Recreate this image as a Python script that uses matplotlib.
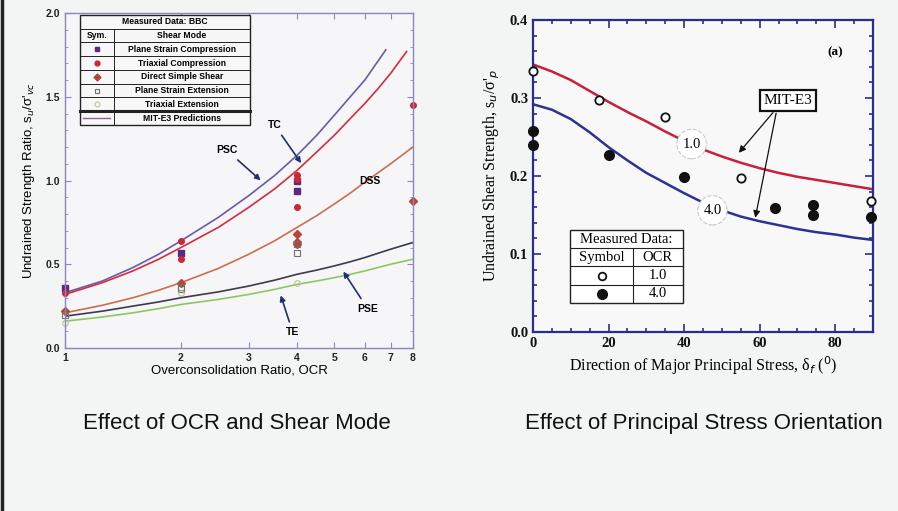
import numpy as np
import matplotlib
matplotlib.use("Agg")
import matplotlib.pyplot as plt
from matplotlib.ticker import FixedLocator, MultipleLocator, FormatStrFormatter
from matplotlib.lines import Line2D
from matplotlib.patches import Rectangle

# ---------------- data: left panel (OCR and shear mode) ----------------
ocr_line = [1, 1.25, 1.5, 1.75, 2, 2.5, 3, 3.5, 4, 4.5, 5, 5.5, 6, 7, 8]
psc_ocr = [1, 1.25, 1.5, 1.75, 2, 2.5, 3, 3.5, 4, 4.5, 5, 5.5, 6, 6.8]
psc_line = [0.33, 0.40, 0.48, 0.56, 0.64, 0.78, 0.91, 1.03, 1.15, 1.27, 1.39, 1.50, 1.60, 1.78]
tc_ocr = [1, 1.25, 1.5, 1.75, 2, 2.5, 3, 3.5, 4, 4.5, 5, 5.5, 6, 6.5, 7, 7.7]
tc_line = [0.32, 0.39, 0.46, 0.53, 0.60, 0.72, 0.84, 0.95, 1.06, 1.17, 1.27, 1.37, 1.46, 1.55, 1.64, 1.77]
dss_line = [0.21, 0.255, 0.30, 0.345, 0.39, 0.475, 0.56, 0.64, 0.72, 0.79, 0.86, 0.925, 0.99, 1.10, 1.20]
pse_line = [0.19, 0.22, 0.25, 0.275, 0.30, 0.335, 0.37, 0.405, 0.44, 0.465, 0.49, 0.515, 0.54, 0.59, 0.63]
te_line = [0.16, 0.185, 0.21, 0.235, 0.26, 0.29, 0.32, 0.35, 0.38, 0.40, 0.42, 0.44, 0.46, 0.50, 0.53]

psc_pts_ocr = [1, 2, 4, 4]
psc_pts = [0.36, 0.57, 1.00, 0.94]
tc_pts_ocr = [1, 2, 2, 4, 4, 4, 8]
tc_pts = [0.33, 0.64, 0.53, 1.03, 1.01, 0.84, 1.45]
dss_pts_ocr = [1, 2, 4, 4, 4, 8]
dss_pts = [0.22, 0.39, 0.68, 0.63, 0.62, 0.88]
pse_pts_ocr = [1, 2, 2, 4, 4]
pse_pts = [0.195, 0.365, 0.35, 0.62, 0.57]
te_pts_ocr = [1, 2, 4]
te_pts = [0.15, 0.33, 0.39]

mode_names = ["Plane Strain Compression", "Triaxial Compression", "Direct Simple Shear",
              "Plane Strain Extension", "Triaxial Extension"]
curve_labels = ["PSC", "TC", "DSS", "PSE", "TE"]
ocr_ticks = [1, 2, 3, 4, 5, 6, 7, 8]

# ---------------- data: right panel (principal stress direction) ----------------
delta_line = [0, 5, 10, 15, 20, 25, 30, 35, 40, 45, 50, 55, 60, 65, 70, 75, 80, 85, 90]
ocr1_line = [0.343, 0.334, 0.323, 0.309, 0.295, 0.282, 0.270, 0.257, 0.245, 0.234, 0.225,
             0.217, 0.210, 0.204, 0.199, 0.195, 0.191, 0.187, 0.183]
ocr4_line = [0.292, 0.285, 0.273, 0.256, 0.237, 0.220, 0.204, 0.191, 0.178, 0.166, 0.156,
             0.148, 0.142, 0.137, 0.132, 0.128, 0.125, 0.121, 0.118]
ocr1_delta = [0, 17.5, 35, 55, 89.5]
ocr1_su = [0.335, 0.298, 0.276, 0.197, 0.168]
ocr4_delta = [0, 0, 20, 40, 64, 74, 74, 89.5]
ocr4_su = [0.258, 0.240, 0.227, 0.199, 0.159, 0.163, 0.150, 0.147]

# ---------------- figure ----------------
W, H = 898, 511
fig = plt.figure(figsize=(W / 100, H / 100), dpi=100, facecolor="#f3f4f4")

SANS = ["Liberation Sans", "DejaVu Sans"]
SERIF = ["Liberation Serif", "DejaVu Serif"]

# left border line
fig.add_artist(Line2D([0.002, 0.002], [0, 1], transform=fig.transFigure, color="#222222", lw=2.5))

# ======== LEFT PANEL ========
axL = fig.add_axes([65 / W, 1 - 348 / H, 348 / W, 335 / H])
axL.set_facecolor("#f6f6f8")
axL.set_xscale("log")
axL.set_xlim(1, 8)
axL.set_ylim(0, 2.0)
frame_c = "#8a86c0"
for s in axL.spines.values():
    s.set_color(frame_c)
    s.set_linewidth(1.0)
axL.xaxis.set_major_locator(FixedLocator(ocr_ticks))
axL.xaxis.set_minor_locator(FixedLocator([]))
axL.set_xticklabels([str(t) for t in ocr_ticks])
axL.yaxis.set_major_locator(MultipleLocator(0.5))
axL.yaxis.set_minor_locator(MultipleLocator(0.1))
axL.yaxis.set_major_formatter(FormatStrFormatter("%.1f"))
axL.tick_params(which="both", direction="in", top=True, right=True, colors=frame_c,
                labelcolor="#222222", labelsize=7.5)
axL.tick_params(which="major", length=4)
axL.tick_params(which="minor", length=2)
for lab in axL.get_xticklabels() + axL.get_yticklabels():
    lab.set_fontfamily(SANS)
    lab.set_fontweight("bold")
axL.set_xlabel("Overconsolidation Ratio, OCR", fontsize=9.5, family=SANS, labelpad=1)
axL.set_ylabel("Undrained Strength Ratio, s$_u$/σ'$_{vc}$", fontsize=9.5, family=SANS, labelpad=6)

c_psc, c_tc, c_dss, c_pse, c_te = "#6a5aa8", "#d42c3c", "#c8704c", "#3a3c4a", "#8cc860"
axL.plot(psc_ocr, psc_line, color=c_psc, lw=1.2)
axL.plot(tc_ocr, tc_line, color=c_tc, lw=1.2)
axL.plot(ocr_line, dss_line, color=c_dss, lw=1.2)
axL.plot(ocr_line, pse_line, color=c_pse, lw=1.2)
axL.plot(ocr_line, te_line, color=c_te, lw=1.2)

m_psc = dict(marker="s", color="#5a2a80", ms=4, ls="none")
m_tc = dict(marker="o", color="#c8283a", ms=4, ls="none")
m_dss = dict(marker="D", color="#b44838", ms=4, ls="none")
m_pse = dict(marker="s", mfc="none", mec="#707070", ms=4.5, ls="none", mew=0.8)
m_te = dict(marker="o", mfc="none", mec="#b8c890", ms=4, ls="none", mew=0.8)
axL.plot(psc_pts_ocr, psc_pts, clip_on=False, **m_psc)
axL.plot(tc_pts_ocr, tc_pts, clip_on=False, **m_tc)
axL.plot(dss_pts_ocr, dss_pts, clip_on=False, **m_dss)
axL.plot(pse_pts_ocr, pse_pts, clip_on=False, **m_pse)
axL.plot(te_pts_ocr, te_pts, clip_on=False, **m_te)

# curve labels + arrows
lbl_kw = dict(fontsize=7.5, fontweight="bold", family=SANS, ha="center", va="center")
ap = dict(arrowstyle="-|>", color="#203070", lw=1.2, mutation_scale=8)
axL.annotate(curve_labels[0], xy=(3.26, 0.99), xytext=(2.63, 1.18), arrowprops=ap, **lbl_kw)
axL.annotate(curve_labels[1], xy=(4.14, 1.09), xytext=(3.5, 1.33), arrowprops=ap, **lbl_kw)
axL.text(6.18, 1.0, curve_labels[2], **lbl_kw)
axL.annotate(curve_labels[3], xy=(5.23, 0.47), xytext=(6.1, 0.235), arrowprops=ap, **lbl_kw)
axL.annotate(curve_labels[4], xy=(3.61, 0.33), xytext=(3.9, 0.094), arrowprops=ap, **lbl_kw)

# legend table (axes coords)
tx0, tx1 = 0.043, 0.532
ty1, ty0 = 0.994, 0.666
nrow = 8
rh = (ty1 - ty0) / nrow
colx = 0.14
tr = axL.transAxes
axL.add_patch(Rectangle((tx0, ty0), tx1 - tx0, ty1 - ty0, transform=tr, fc="#f7f7f7",
                        ec="#222222", lw=1.0, zorder=5))
for i in range(1, nrow):
    yy = ty1 - i * rh
    lw = 2.2 if i == 7 else 0.7
    axL.plot([tx0, tx1], [yy, yy], transform=tr, color="#222222", lw=lw, zorder=6)
axL.plot([colx, colx], [ty0, ty1 - rh], transform=tr, color="#222222", lw=0.7, zorder=6)
tkw = dict(transform=tr, fontsize=6.2, fontweight="bold", family=SANS, va="center", zorder=7)
axL.text((tx0 + tx1) / 2, ty1 - 0.5 * rh, "Measured Data: BBC", ha="center", **tkw)
axL.text((tx0 + colx) / 2, ty1 - 1.5 * rh, "Sym.", ha="center", **tkw)
axL.text((colx + tx1) / 2, ty1 - 1.5 * rh, "Shear Mode", ha="center", **tkw)
mk_list = [m_psc, m_tc, m_dss, m_pse, m_te]
for i, (nm, mk) in enumerate(zip(mode_names, mk_list)):
    yy = ty1 - (2.5 + i) * rh
    axL.text((colx + tx1) / 2, yy, nm, ha="center", **tkw)
    mk2 = dict(mk)
    mk2["ms"] = 3.5
    axL.plot([(tx0 + colx) / 2], [yy], transform=tr, zorder=7, **mk2)
yy = ty1 - 7.5 * rh
axL.plot([tx0 + 0.01, colx - 0.01], [yy, yy], transform=tr, color="#9060a0", lw=1.0, zorder=7)
axL.text((colx + tx1) / 2, yy, "MIT-E3 Predictions", ha="center", **tkw)

# ======== RIGHT PANEL ========
axR = fig.add_axes([533 / W, 1 - 332 / H, 340 / W, 312 / H])
axR.set_facecolor("#f8f8f8")
axR.set_xlim(0, 90)
axR.set_ylim(0, 0.4)
navy = "#2a2e8a"
for s in axR.spines.values():
    s.set_color(navy)
    s.set_linewidth(1.6)
axR.xaxis.set_major_locator(MultipleLocator(20))
axR.xaxis.set_minor_locator(MultipleLocator(5))
axR.yaxis.set_major_locator(MultipleLocator(0.1))
axR.yaxis.set_minor_locator(MultipleLocator(0.02))
axR.yaxis.set_major_formatter(FormatStrFormatter("%.1f"))
axR.tick_params(which="both", direction="in", top=True, right=True, colors=navy,
                labelcolor="#111111", labelsize=10.5, width=1.2)
axR.tick_params(which="major", length=6)
axR.tick_params(which="minor", length=3)
for lab in axR.get_xticklabels() + axR.get_yticklabels():
    lab.set_fontfamily(SERIF)
    lab.set_fontweight("bold")
axR.set_xlabel("Direction of Major Principal Stress, δ$_f$ ($^0$)", fontsize=11.5, family=SERIF, labelpad=3)
axR.set_ylabel("Undrained Shear Strength, s$_u$/σ'$_p$", fontsize=11.5, family=SERIF, labelpad=6)

axR.plot(delta_line, ocr1_line, color="#c8203c", lw=1.8)
axR.plot(delta_line, ocr4_line, color="#2e3290", lw=1.8)
axR.plot(ocr1_delta, ocr1_su, ls="none", marker="o", mfc="white", mec="#111111", mew=1.3, ms=6,
         clip_on=False, zorder=5)
axR.plot(ocr4_delta, ocr4_su, ls="none", marker="o", color="#111111", ms=7, clip_on=False, zorder=5)

circ = dict(boxstyle="circle,pad=0.38", fc="white", ec="#c8c8c8", ls="--", lw=0.8)
axR.text(42, 0.241, "1.0", fontsize=10.5, family=SERIF, ha="center", va="center", bbox=circ, zorder=6)
axR.text(47.5, 0.156, "4.0", fontsize=10.5, family=SERIF, ha="center", va="center", bbox=circ, zorder=6)

axR.text(67.5, 0.297, "MIT-E3", fontsize=11, family=SERIF, ha="center", va="center",
         bbox=dict(boxstyle="square,pad=0.25", fc="white", ec="#111111", lw=1.6), zorder=6)
arr = dict(arrowstyle="-|>", color="#111111", lw=0.9, mutation_scale=10)
axR.annotate("", xy=(54, 0.227), xytext=(64, 0.284), arrowprops=arr)
axR.annotate("", xy=(58.7, 0.143), xytext=(64.5, 0.284), arrowprops=arr)
axR.text(80, 0.358, "(a)", fontsize=9.5, fontweight="bold", family=SERIF, ha="center", va="center")

# right legend table
trR = axR.transAxes
rx0, rx1, rxc = 0.11, 0.44, 0.294
ry0, ry1 = 0.093, 0.327
rrh = (ry1 - ry0) / 4
axR.add_patch(Rectangle((rx0, ry0), rx1 - rx0, ry1 - ry0, transform=trR, fc="white",
                        ec="#222222", lw=1.0, zorder=5))
for i in range(1, 4):
    yy = ry1 - i * rrh
    axR.plot([rx0, rx1], [yy, yy], transform=trR, color="#222222", lw=0.8, zorder=6)
axR.plot([rxc, rxc], [ry0, ry1 - rrh], transform=trR, color="#222222", lw=0.8, zorder=6)
rkw = dict(transform=trR, fontsize=10.5, family=SERIF, va="center", ha="center", zorder=7)
axR.text((rx0 + rx1) / 2, ry1 - 0.5 * rrh, "Measured Data:", **rkw)
axR.text((rx0 + rxc) / 2, ry1 - 1.5 * rrh, "Symbol", **rkw)
axR.text((rxc + rx1) / 2, ry1 - 1.5 * rrh, "OCR", **rkw)
axR.text((rxc + rx1) / 2, ry1 - 2.5 * rrh, "1.0", **rkw)
axR.text((rxc + rx1) / 2, ry1 - 3.5 * rrh, "4.0", **rkw)
axR.plot([(rx0 + rxc) / 2], [ry1 - 2.5 * rrh], transform=trR, marker="o", mfc="white",
         mec="#111111", mew=1.3, ms=5.5, zorder=7)
axR.plot([(rx0 + rxc) / 2], [ry1 - 3.5 * rrh], transform=trR, marker="o", color="#111111",
         ms=7, zorder=7)

# ======== captions ========
fig.text(237 / W, 1 - 423 / H, "Effect of OCR and Shear Mode", fontsize=16, family=SANS,
         ha="center", va="center", color="#111111")
fig.text(703.5 / W, 1 - 423 / H, "Effect of Principal Stress Orientation", fontsize=16, family=SANS,
         ha="center", va="center", color="#111111")

fig.savefig("out.png", dpi=100, facecolor=fig.get_facecolor())
